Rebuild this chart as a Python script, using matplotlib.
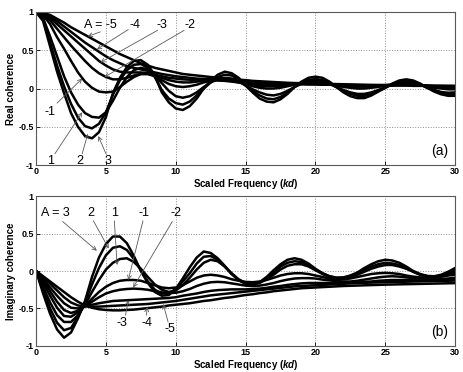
import numpy as np
import matplotlib
matplotlib.use("Agg")
import matplotlib.pyplot as plt

plt.rcParams['font.family'] = ['Liberation Sans', 'DejaVu Sans']
plt.rcParams['mathtext.fontset'] = 'custom'
plt.rcParams['mathtext.it'] = 'Liberation Sans:bold:italic'
plt.rcParams['mathtext.rm'] = 'Liberation Sans:bold'

# scaled frequency sample points (kd), 0 .. 30 in steps of 0.5
kd = np.arange(0, 30.01, 0.5)

# real coherence
re_p3 = [1.00, 0.88, 0.55, 0.22, -0.06, -0.32, -0.50, -0.62, -0.65, -0.57,
         -0.37, -0.06, 0.14, 0.28, 0.36, 0.37, 0.31, 0.17, -0.05, -0.18,
         -0.26, -0.28, -0.23, -0.13, 0.00, 0.10, 0.18, 0.22, 0.20, 0.14,
         0.04, -0.05, -0.13, -0.17, -0.18, -0.14, -0.07, 0.02, 0.09, 0.14,
         0.155, 0.14, 0.09, 0.02, -0.05, -0.10, -0.125, -0.125, -0.09, -0.04,
         0.01, 0.065, 0.105, 0.12, 0.105, 0.065, 0.01, -0.04, -0.075, -0.095,
         -0.095]
re_p2 = [1.00, 0.90, 0.60, 0.30, 0.03, -0.20, -0.38, -0.49, -0.52, -0.46,
         -0.31, -0.08, 0.11, 0.24, 0.31, 0.32, 0.27, 0.15, -0.02, -0.13,
         -0.19, -0.21, -0.17, -0.09, 0.00, 0.08, 0.15, 0.18, 0.17, 0.12,
         0.04, -0.03, -0.09, -0.13, -0.14, -0.11, -0.05, 0.02, 0.08, 0.11,
         0.125, 0.11, 0.07, 0.02, -0.03, -0.07, -0.095, -0.095, -0.07, -0.03,
         0.01, 0.055, 0.085, 0.095, 0.085, 0.055, 0.015, -0.025, -0.055, -0.07,
         -0.07]
re_p1 = [1.00, 0.92, 0.68, 0.42, 0.16, -0.05, -0.21, -0.32, -0.37, -0.38,
         -0.31, -0.16, 0.01, 0.15, 0.24, 0.27, 0.25, 0.17, 0.07, -0.03,
         -0.10, -0.12, -0.10, -0.05, 0.02, 0.08, 0.12, 0.14, 0.13, 0.09,
         0.04, -0.01, -0.05, -0.08, -0.09, -0.07, -0.03, 0.02, 0.06, 0.09,
         0.10, 0.09, 0.06, 0.02, -0.02, -0.05, -0.07, -0.07, -0.05, -0.02,
         0.02, 0.05, 0.075, 0.08, 0.07, 0.05, 0.01, -0.02, -0.045, -0.055,
         -0.05]
re_m1 = [1.00, 0.96, 0.84, 0.67, 0.52, 0.36, 0.21, 0.09, 0.01, -0.04,
         -0.05, -0.04, 0.02, 0.09, 0.15, 0.19, 0.19, 0.16, 0.11, 0.06,
         0.03, 0.02, 0.03, 0.05, 0.08, 0.10, 0.12, 0.12, 0.11, 0.09,
         0.06, 0.03, 0.01, 0.00, 0.00, 0.01, 0.03, 0.05, 0.07, 0.08,
         0.08, 0.075, 0.06, 0.04, 0.02, 0.01, 0.00, 0.00, 0.01, 0.02,
         0.04, 0.05, 0.06, 0.065, 0.06, 0.045, 0.03, 0.01, 0.00, -0.01,
         -0.01]
re_m2 = [1.00, 0.97, 0.89, 0.78, 0.67, 0.56, 0.46, 0.36, 0.27, 0.20,
         0.15, 0.12, 0.12, 0.14, 0.17, 0.19, 0.19, 0.17, 0.14, 0.11,
         0.09, 0.08, 0.08, 0.09, 0.10, 0.11, 0.115, 0.11, 0.10, 0.08,
         0.06, 0.045, 0.035, 0.03, 0.03, 0.035, 0.045, 0.055, 0.065, 0.07,
         0.07, 0.065, 0.055, 0.045, 0.035, 0.03, 0.025, 0.025, 0.03, 0.035,
         0.045, 0.05, 0.055, 0.055, 0.05, 0.045, 0.035, 0.025, 0.02, 0.015,
         0.015]
re_m3 = [1.00, 0.98, 0.92, 0.84, 0.76, 0.68, 0.60, 0.52, 0.44, 0.36,
         0.30, 0.25, 0.22, 0.21, 0.21, 0.21, 0.20, 0.18, 0.16, 0.14,
         0.13, 0.12, 0.115, 0.115, 0.115, 0.11, 0.105, 0.10, 0.09, 0.08,
         0.07, 0.06, 0.055, 0.05, 0.05, 0.05, 0.05, 0.055, 0.055, 0.055,
         0.055, 0.05, 0.05, 0.045, 0.04, 0.04, 0.035, 0.035, 0.035, 0.04,
         0.04, 0.04, 0.045, 0.045, 0.04, 0.04, 0.035, 0.03, 0.03, 0.025,
         0.025]
re_m4 = [1.00, 0.98, 0.94, 0.88, 0.81, 0.74, 0.67, 0.60, 0.54, 0.48,
         0.42, 0.37, 0.33, 0.29, 0.27, 0.25, 0.23, 0.21, 0.19, 0.175,
         0.16, 0.15, 0.14, 0.13, 0.125, 0.12, 0.11, 0.105, 0.10, 0.09,
         0.085, 0.08, 0.075, 0.07, 0.065, 0.065, 0.06, 0.06, 0.06, 0.055,
         0.055, 0.05, 0.05, 0.05, 0.045, 0.045, 0.04, 0.04, 0.04, 0.04,
         0.04, 0.04, 0.04, 0.04, 0.035, 0.035, 0.035, 0.03, 0.03, 0.03,
         0.03]
re_m5 = [1.00, 0.99, 0.96, 0.91, 0.86, 0.80, 0.75, 0.70, 0.65, 0.60,
         0.55, 0.50, 0.45, 0.41, 0.37, 0.33, 0.30, 0.27, 0.25, 0.23,
         0.21, 0.19, 0.18, 0.17, 0.16, 0.15, 0.14, 0.13, 0.12, 0.115,
         0.11, 0.10, 0.095, 0.09, 0.085, 0.08, 0.075, 0.072, 0.07, 0.067,
         0.065, 0.062, 0.06, 0.058, 0.056, 0.054, 0.052, 0.05, 0.048, 0.047,
         0.046, 0.045, 0.044, 0.043, 0.042, 0.041, 0.04, 0.039, 0.038, 0.037,
         0.036]

# imaginary coherence
im_p3 = [0.00, -0.30, -0.57, -0.78, -0.89, -0.82, -0.63, -0.40, -0.08, 0.18,
         0.36, 0.46, 0.46, 0.37, 0.20, 0.00, -0.16, -0.28, -0.33, -0.32,
         -0.24, -0.10, 0.05, 0.18, 0.26, 0.24, 0.17, 0.07, -0.04, -0.12,
         -0.17, -0.18, -0.15, -0.08, 0.01, 0.09, 0.15, 0.17, 0.15, 0.10,
         0.03, -0.03, -0.07, -0.09, -0.085, -0.06, -0.02, 0.04, 0.09, 0.13,
         0.15, 0.14, 0.11, 0.06, 0.00, -0.04, -0.065, -0.07, -0.05, -0.01,
         0.04]
im_p2 = [0.00, -0.26, -0.50, -0.69, -0.79, -0.76, -0.61, -0.42, -0.18, 0.04,
         0.21, 0.31, 0.33, 0.28, 0.16, 0.01, -0.14, -0.25, -0.30, -0.30,
         -0.24, -0.14, -0.03, 0.10, 0.19, 0.20, 0.15, 0.06, -0.04, -0.12,
         -0.17, -0.18, -0.15, -0.09, -0.02, 0.06, 0.11, 0.13, 0.12, 0.08,
         0.02, -0.03, -0.07, -0.09, -0.09, -0.07, -0.03, 0.02, 0.06, 0.09,
         0.11, 0.10, 0.08, 0.04, -0.01, -0.05, -0.07, -0.08, -0.06, -0.03,
         0.01]
im_p1 = [0.00, -0.21, -0.42, -0.59, -0.68, -0.68, -0.59, -0.45, -0.28, -0.12,
         0.02, 0.11, 0.16, 0.17, 0.12, 0.03, -0.08, -0.18, -0.25, -0.28,
         -0.26, -0.19, -0.09, 0.02, 0.11, 0.15, 0.13, 0.06, -0.03, -0.11,
         -0.16, -0.18, -0.16, -0.11, -0.05, 0.02, 0.07, 0.09, 0.09, 0.06,
         0.01, -0.04, -0.08, -0.10, -0.10, -0.08, -0.05, -0.01, 0.03, 0.06,
         0.08, 0.08, 0.06, 0.03, -0.01, -0.05, -0.07, -0.08, -0.07, -0.05,
         -0.02]
im_m1 = [0.00, -0.16, -0.33, -0.49, -0.60, -0.61, -0.55, -0.46, -0.37, -0.28,
         -0.21, -0.16, -0.13, -0.12, -0.12, -0.13, -0.16, -0.19, -0.22, -0.23,
         -0.22, -0.19, -0.14, -0.09, -0.06, -0.05, -0.06, -0.08, -0.11, -0.13,
         -0.145, -0.15, -0.14, -0.12, -0.09, -0.06, -0.04, -0.03, -0.03, -0.04,
         -0.06, -0.08, -0.10, -0.11, -0.11, -0.10, -0.08, -0.06, -0.04, -0.03,
         -0.025, -0.03, -0.04, -0.06, -0.075, -0.085, -0.09, -0.085, -0.075, -0.06,
         -0.05]
im_m2 = [0.00, -0.13, -0.27, -0.41, -0.52, -0.56, -0.53, -0.47, -0.41, -0.35,
         -0.30, -0.27, -0.25, -0.24, -0.235, -0.24, -0.25, -0.27, -0.285, -0.295,
         -0.29, -0.27, -0.24, -0.20, -0.17, -0.15, -0.145, -0.15, -0.165, -0.18,
         -0.195, -0.20, -0.195, -0.18, -0.16, -0.135, -0.115, -0.10, -0.095, -0.095,
         -0.10, -0.115, -0.125, -0.135, -0.14, -0.14, -0.13, -0.115, -0.10, -0.085,
         -0.075, -0.07, -0.075, -0.085, -0.095, -0.105, -0.11, -0.11, -0.105, -0.10,
         -0.09]
im_m3 = [0.00, -0.11, -0.22, -0.33, -0.43, -0.49, -0.50, -0.47, -0.45, -0.43,
         -0.415, -0.40, -0.395, -0.39, -0.385, -0.38, -0.375, -0.37, -0.365, -0.36,
         -0.35, -0.33, -0.315, -0.30, -0.28, -0.265, -0.255, -0.25, -0.245, -0.245,
         -0.245, -0.24, -0.235, -0.225, -0.21, -0.20, -0.185, -0.175, -0.165, -0.16,
         -0.16, -0.16, -0.16, -0.16, -0.16, -0.155, -0.15, -0.145, -0.14, -0.13,
         -0.125, -0.12, -0.12, -0.12, -0.12, -0.12, -0.12, -0.12, -0.115, -0.115,
         -0.11]
im_m4 = [0.00, -0.08, -0.17, -0.26, -0.35, -0.42, -0.46, -0.47, -0.475, -0.475,
         -0.47, -0.465, -0.46, -0.455, -0.45, -0.445, -0.44, -0.43, -0.42, -0.41,
         -0.40, -0.385, -0.37, -0.355, -0.34, -0.325, -0.315, -0.305, -0.295, -0.285,
         -0.275, -0.265, -0.255, -0.245, -0.235, -0.225, -0.215, -0.205, -0.20, -0.195,
         -0.19, -0.185, -0.18, -0.175, -0.17, -0.165, -0.16, -0.157, -0.155, -0.152,
         -0.15, -0.147, -0.145, -0.143, -0.14, -0.138, -0.136, -0.134, -0.132, -0.13,
         -0.128]
im_m5 = [0.00, -0.07, -0.14, -0.21, -0.28, -0.35, -0.41, -0.46, -0.49, -0.51,
         -0.52, -0.525, -0.525, -0.52, -0.515, -0.505, -0.495, -0.485, -0.475, -0.46,
         -0.45, -0.44, -0.43, -0.415, -0.40, -0.39, -0.375, -0.36, -0.35, -0.335,
         -0.32, -0.31, -0.295, -0.285, -0.27, -0.26, -0.25, -0.24, -0.23, -0.225,
         -0.22, -0.215, -0.21, -0.205, -0.20, -0.197, -0.194, -0.191, -0.188, -0.185,
         -0.182, -0.18, -0.178, -0.176, -0.174, -0.172, -0.17, -0.168, -0.166, -0.164,
         -0.162]

real_curves = [re_m5, re_m4, re_m3, re_m2, re_m1, re_p1, re_p2, re_p3]
imag_curves = [im_m5, im_m4, im_m3, im_m2, im_m1, im_p1, im_p2, im_p3]

# curve labels: (text, text pos, arrow tail, arrow head) in data coords
real_labels = [
    ("A = -5", (4.6, 0.83), (4.6, 0.74), (3.7, 0.68)),
    ("-4", (7.1, 0.83), (6.6, 0.77), (4.35, 0.51)),
    ("-3", (9.0, 0.83), (8.7, 0.76), (4.6, 0.34)),
    ("-2", (11.0, 0.83), (10.6, 0.76), (4.9, 0.15)),
    ("-1", (1.0, -0.31), (1.5, -0.19), (3.3, 0.13)),
    ("1", (1.0, -0.94), (1.35, -0.85), (3.3, -0.31)),
    ("2", (3.1, -0.94), (3.3, -0.85), (3.7, -0.59)),
    ("3", (5.15, -0.94), (5.0, -0.85), (4.45, -0.62)),
]
imag_labels = [
    ("A = 3", (1.4, 0.78), (1.9, 0.66), (4.35, 0.27)),
    ("2", (3.9, 0.78), (4.1, 0.67), (5.2, 0.30)),
    ("1", (5.6, 0.78), (5.6, 0.67), (5.8, 0.08)),
    ("-1", (7.7, 0.78), (7.65, 0.67), (6.6, -0.12)),
    ("-2", (10.0, 0.78), (9.75, 0.66), (6.95, -0.22)),
    ("-3", (6.15, -0.70), (6.4, -0.59), (6.6, -0.39)),
    ("-4", (7.95, -0.70), (7.9, -0.59), (7.95, -0.48)),
    ("-5", (9.6, -0.78), (9.45, -0.68), (9.1, -0.44)),
]


def draw_panel(ax, curves, labels, ylabel, tag):
    for c in curves:
        ax.plot(kd, c, color="black", lw=1.8)
    for text, tpos, tail, head in labels:
        ax.text(tpos[0], tpos[1], text, fontsize=9, ha="center", va="center")
        ax.annotate("", xy=head, xytext=tail,
                    arrowprops=dict(arrowstyle="->", lw=0.6, color="0.35",
                                    shrinkA=0, shrinkB=0, mutation_scale=7))
    ax.text(28.9, -0.82, tag, fontsize=10, ha="center", va="center")
    ax.set_xlim(0, 30)
    ax.set_ylim(-1, 1)
    ax.set_xticks([0, 5, 10, 15, 20, 25, 30])
    ax.set_yticks([-1, -0.5, 0, 0.5, 1])
    ax.set_yticklabels(["-1", "-0.5", "0", "0.5", "1"])
    ax.tick_params(direction="in", length=3, labelsize=6.5, pad=1.5, width=0.6)
    for lab in ax.get_xticklabels() + ax.get_yticklabels():
        lab.set_fontweight("bold")
    ax.grid(True, linestyle=":", color="0.55", lw=0.7)
    for s in ax.spines.values():
        s.set_color("0.35")
        s.set_linewidth(0.8)
    ax.set_ylabel(ylabel, fontsize=7, fontweight="bold", labelpad=2)
    ax.set_xlabel(r"Scaled Frequency ($kd$)", fontsize=7, fontweight="bold", labelpad=0.5)


fig = plt.figure(figsize=(4.63, 3.72), dpi=100)
ax1 = fig.add_axes([0.078, 0.556, 0.905, 0.412])
ax2 = fig.add_axes([0.078, 0.070, 0.905, 0.403])
draw_panel(ax1, real_curves, real_labels, "Real coherence", "(a)")
draw_panel(ax2, imag_curves, imag_labels, "Imaginary coherence", "(b)")

fig.savefig("out.png", dpi=100)
